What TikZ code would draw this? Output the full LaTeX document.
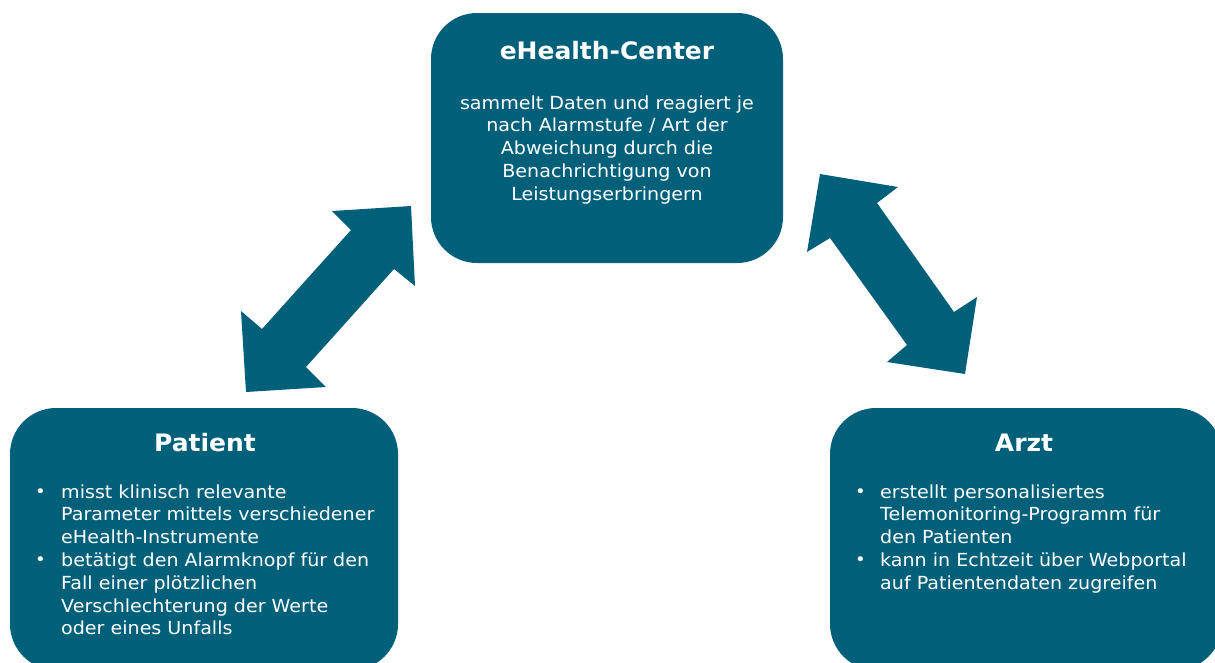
\documentclass[tikz,border=0pt]{standalone}
\usepackage{fontspec}
\setmainfont{DejaVu Sans}
\newfontfamily\bodyfont{DejaVu Sans}[FakeStretch=1.06]
\newfontfamily\titlefont{DejaVu Sans}[FakeStretch=1.04]
\usepackage{array}
\definecolor{boxteal}{RGB}{0,96,122}
\tikzset{
  infobox/.style={fill=boxteal, draw=none, rounded corners=46pt, inner sep=0pt},
  boxtitle/.style={text=white, inner sep=0pt, font=\titlefont\fontsize{24}{28}\selectfont\bfseries},
  boxbody/.style={text=white, inner sep=0pt, font=\bodyfont\fontsize{18}{22.8}\selectfont},
  blockarrow/.style={fill=boxteal, draw=none},
}
\newcommand{\bul}{{\fontsize{17}{17}\selectfont\raisebox{0.5pt}{\textbullet}}}
\begin{document}
\begin{tikzpicture}[x=1pt,y=-1pt]
  \useasboundingbox (0,0) rectangle (1215,662);
  \clip (0,0) rectangle (1215,662);

  % rounded boxes
  \node[infobox, minimum width=352pt, minimum height=250pt] (center) at (607,138) {};
  \node[infobox, minimum width=388pt, minimum height=262pt] (patient) at (204,539) {};
  \node[infobox, minimum width=392pt, minimum height=262pt] (arzt) at (1026,539) {};

  % titles
  \node[boxtitle, anchor=base] (centertitle) at (607,59) {eHealth-Center};
  \node[boxtitle, anchor=base] (patienttitle) at (205,451) {Patient};
  \node[boxtitle, anchor=base] (arzttitle) at (1024,451) {Arzt};

  % texts
  \node[boxbody, anchor=base] (centertext) at (607,109) {%
    \begin{tabular}[t]{@{}c@{}}
    sammelt Daten und reagiert je\\
    nach Alarmstufe / Art der\\
    Abweichung durch die\\
    Benachrichtigung von\\
    Leistungserbringern
    \end{tabular}};

  \node[boxbody, anchor=base west] (patienttext) at (35,498) {%
    \begin{tabular}[t]{@{}p{26pt}@{}l@{}}
    \bul & misst klinisch relevante\\
         & Parameter mittels verschiedener\\
         & eHealth-Instrumente\\
    \bul & betätigt den Alarmknopf für den\\
         & Fall einer plötzlichen\\
         & Verschlechterung der Werte\\
         & oder eines Unfalls
    \end{tabular}};

  \node[boxbody, anchor=base west] (arzttext) at (855,498) {%
    \begin{tabular}[t]{@{}p{25pt}@{}l@{}}
    \bul & erstellt personalisiertes\\
         & Telemonitoring-Programm für\\
         & den Patienten\\
    \bul & kann in Echtzeit über Webportal\\
         & auf Patientendaten zugreifen
    \end{tabular}};

  % double block arrow between Patient and eHealth-Center
  \fill[blockarrow] (411,206) -- (415,286) -- (394,269) -- (306,367) -- (326,387)
    -- (246,392) -- (241,311) -- (262,329) -- (351,230) -- (332,211) -- cycle;

  % double block arrow between eHealth-Center and Arzt
  \fill[blockarrow] (820,174) -- (898,187) -- (877,203) -- (954,312) -- (977,297)
    -- (965,374) -- (887,362) -- (907,345) -- (830,238) -- (807,252) -- cycle;
\end{tikzpicture}
\end{document}
